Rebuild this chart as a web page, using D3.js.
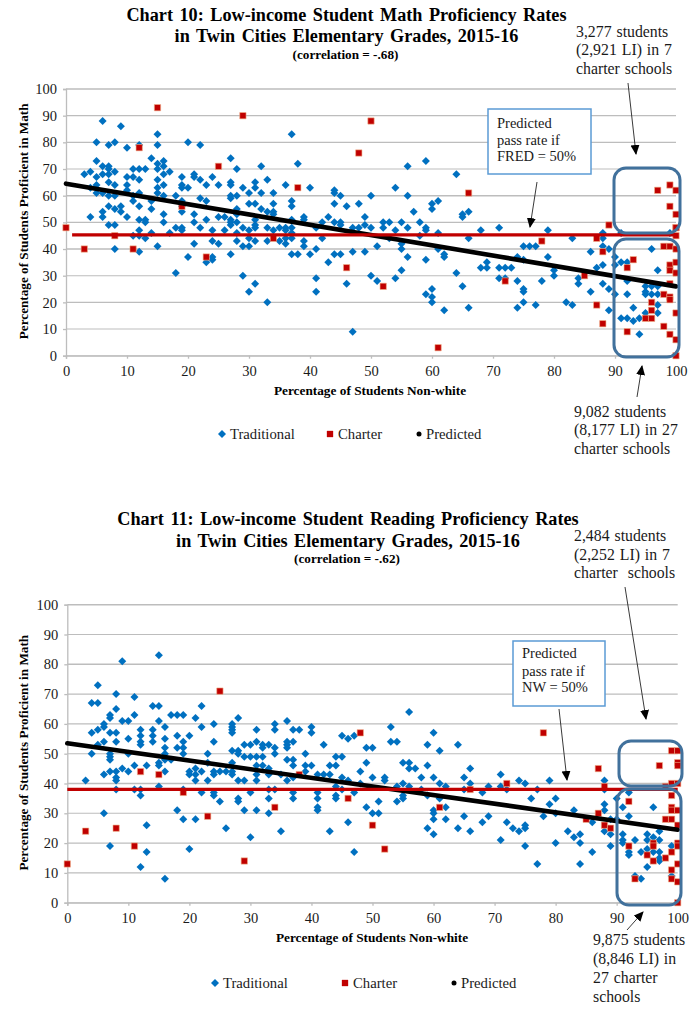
<!DOCTYPE html>
<html><head><meta charset="utf-8">
<script src="https://cdn.jsdelivr.net/npm/d3@7"></script>
<style>
html,body{margin:0;padding:0;background:#fff}
svg{display:block}
text{font-family:"Liberation Serif",serif;fill:#1a1a1a;white-space:pre}
</style></head><body>
<svg id="c" width="700" height="1026"></svg>
<script>
// ---------- Chart 10 data: [percent non-white, percent proficient]
const mathTraditional = [[6,88],[9,86],[5,80],[7,79],[8,80],[10,78],[12,79],[15,83],[15,79],[20,80],[22,79],[37,83],[14,74],[5,73],[15,72],[16,73],[16,71],[6,71],[7,71],[7,70],[11,70],[12,70],[13,70],[15,70],[3,68],[4,69],[5,67],[6,68],[7,68],[8,69],[10,67],[11,67],[12,66],[15,66],[16,68],[17,69],[19,67],[21,68],[21,67],[22,66],[24,67],[27,74],[28,70],[32,71],[27,65],[27,64],[29,63],[31,65],[31,63],[33,66],[36,64],[38,72],[40,63],[5,64],[7,65],[8,64],[10,64],[4,63],[5,61],[6,61],[7,60],[8,60],[10,62],[11,60],[11,58],[12,61],[12,56],[14,58],[15,63],[15,61],[16,64],[16,60],[19,64],[19,63],[20,63],[23,64],[25,64],[18,60],[19,58],[19,56],[22,59],[23,58],[27,59],[27,60],[28,60],[30,61],[32,61],[34,61],[30,57],[31,57],[34,57],[37,58],[37,56],[44,62],[44,61],[44,57],[45,60],[46,56],[4,52],[6,54],[6,52],[8,55],[9,56],[9,54],[10,52],[7,56],[7,49],[8,49],[12,51],[13,51],[13,50],[14,55],[16,53],[16,50],[19,54],[21,53],[21,50],[23,51],[25,52],[26,52],[27,51],[27,50],[27,49],[28,55],[28,50],[28,53],[32,55],[33,54],[34,54],[34,53],[31,51],[37,51],[39,52],[39,51],[43,52],[42,50],[44,50],[45,50],[45,49],[11,45],[12,47],[12,45],[13,44],[14,46],[12,39],[8,40],[15,41],[17,46],[18,48],[19,48],[19,47],[18,31],[20,37],[21,42],[22,48],[23,35],[24,47],[24,43],[24,37],[24,36],[25,42],[26,47],[27,38],[28,43],[28,46],[29,48],[29,41],[29,30],[30,47],[30,44],[30,41],[30,24],[31,49],[31,48],[31,43],[31,27],[33,48],[33,43],[33,20],[34,47],[35,48],[35,43],[36,48],[36,47],[36,44],[36,42],[37,48],[37,46],[37,44],[37,38],[38,38],[39,43],[39,41],[40,38],[41,48],[41,40],[41,29],[41,24],[42,44],[43,35],[44,38],[45,38],[46,27],[47,39],[47,9],[56,71],[59,73],[64,68],[54,63],[56,60],[50,60],[48,57],[60,57],[61,58],[60,55],[57,54],[49,52],[65,53],[65,52],[66,54],[52,50],[53,50],[55,50],[58,50],[52,48],[54,47],[56,48],[59,48],[59,47],[68,47],[71,48],[61,46],[79,47],[88,46],[91,46],[99,46],[47,48],[48,48],[49,49],[50,48],[49,39],[51,41],[55,40],[55,42],[56,37],[53,44],[58,45],[61,40],[62,38],[62,37],[59,36],[66,44],[68,33],[69,35],[69,33],[71,33],[72,33],[73,33],[71,29],[72,29],[74,28],[74,37],[75,36],[75,41],[76,41],[77,41],[79,37],[78,28],[80,32],[80,30],[83,44],[50,30],[51,28],[54,29],[55,32],[64,31],[65,26],[59,23],[60,25],[60,22],[60,20],[62,17],[66,18],[74,18],[75,20],[75,25],[75,24],[77,19],[82,20],[83,19],[84,29],[84,27],[86,24],[86,39],[87,33],[88,34],[88,27],[88,41],[88,44],[89,40],[89,25],[89,17],[90,37],[90,34],[90,23],[91,35],[92,35],[92,28],[92,23],[91,14],[92,14],[93,13],[93,18],[94,14],[94,8],[95,26],[95,24],[95,23],[95,16],[96,40],[96,26],[96,23],[97,32],[97,26],[97,23],[97,19],[97,16]];
const mathCharter = [[15,93],[29,90],[12,78],[25,71],[38,63],[19,56],[0,48],[8,45],[34,44],[3,40],[11,40],[23,37],[46,33],[50,88],[48,76],[66,61],[97,62],[99,64],[100,62],[99,56],[100,53],[100,48],[89,49],[52,26],[72,28],[61,3],[78,43],[85,30],[87,44],[88,39],[87,19],[88,12],[92,33],[93,36],[92,9],[98,41],[99,41],[100,40],[99,34],[99,32],[100,35],[100,31],[99,27],[98,23],[99,22],[99,21],[96,20],[96,17],[95,14],[96,14],[98,11],[99,8],[100,6],[100,16],[100,0],[100,45],[100,48]];
const mathPredicted = [[0,64.5],[100,26]];
const mathPassRate = [[1,45.3],[100,45.3]];

// ---------- Chart 11 data
const readTraditional = [[9,81],[15,83],[5,73],[4,67],[5,67],[8,70],[8,65],[11,69],[11,63],[7,63],[7,62],[6,60],[6,59],[4,57],[5,58],[7,57],[8,57],[9,61],[10,61],[10,55],[8,54],[6,54],[5,53],[12,58],[12,56],[12,54],[12,53],[14,66],[15,66],[14,58],[14,56],[14,54],[15,61],[16,59],[16,55],[16,52],[17,63],[18,63],[19,63],[18,56],[19,54],[18,52],[19,52],[19,50],[20,56],[21,62],[22,66],[22,59],[24,60],[24,54],[23,50],[27,60],[27,59],[27,58],[27,57],[28,62],[27,51],[28,51],[29,53],[30,53],[31,54],[31,58],[32,53],[32,52],[33,53],[34,52],[34,60],[34,58],[34,50],[36,61],[36,54],[36,53],[36,52],[37,54],[37,58],[38,58],[39,50],[40,59],[40,57],[42,53],[45,56],[46,55],[4,50],[7,50],[7,49],[7,48],[6,43],[7,44],[8,44],[9,45],[8,42],[8,41],[10,44],[10,50],[11,46],[13,46],[3,41],[8,38],[11,38],[12,38],[12,36],[15,47],[15,46],[15,39],[16,44],[16,50],[16,48],[17,48],[19,38],[6,30],[7,19],[13,26],[13,17],[12,12],[16,8],[18,31],[19,28],[20,44],[20,43],[21,45],[21,43],[21,41],[22,44],[22,37],[21,28],[20,18],[23,47],[23,41],[24,44],[24,43],[24,37],[24,36],[25,44],[25,34],[26,44],[26,25],[27,47],[27,44],[27,43],[28,50],[28,41],[28,35],[28,34],[29,49],[29,41],[29,31],[30,49],[30,37],[30,22],[31,49],[31,46],[31,43],[31,41],[31,31],[32,49],[32,46],[33,45],[33,43],[33,38],[33,35],[33,30],[34,38],[35,43],[35,24],[36,48],[36,41],[37,48],[37,46],[37,42],[37,37],[37,35],[39,46],[39,44],[40,46],[41,43],[41,37],[41,35],[41,32],[41,31],[42,43],[43,46],[43,43],[43,24],[44,49],[44,46],[44,39],[44,36],[44,35],[45,49],[45,42],[45,38],[46,27],[46,41],[56,64],[53,59],[60,57],[47,56],[53,54],[54,54],[59,53],[64,53],[49,52],[50,52],[61,51],[49,47],[50,42],[48,44],[51,34],[49,32],[50,30],[51,30],[47,37],[47,17],[48,40],[52,42],[52,41],[55,47],[56,47],[56,45],[57,45],[59,46],[58,42],[60,42],[61,40],[62,39],[54,39],[55,40],[55,36],[55,35],[54,34],[56,39],[58,38],[59,36],[60,31],[60,30],[60,28],[61,35],[62,32],[62,28],[59,25],[60,23],[64,25],[65,42],[65,38],[65,29],[66,45],[66,40],[66,24],[68,37],[68,27],[69,39],[69,29],[71,43],[71,39],[71,21],[72,38],[72,27],[73,25],[74,41],[74,24],[75,40],[75,26],[75,25],[75,19],[76,35],[77,38],[77,13],[78,29],[79,41],[79,33],[80,35],[80,30],[80,20],[82,24],[83,31],[83,22],[84,23],[84,20],[84,13],[86,27],[86,17],[88,41],[88,38],[88,33],[88,31],[88,24],[89,28],[89,23],[89,19],[90,35],[90,28],[91,32],[91,23],[91,21],[91,20],[92,29],[92,37],[92,17],[92,16],[93,21],[93,9],[94,17],[94,8],[95,23],[95,21],[95,18],[95,12],[96,32],[96,22],[96,17],[97,24],[97,21],[97,17],[97,15],[97,14],[99,19],[99,9]];
const readCharter = [[25,71],[48,57],[78,57],[99,51],[100,51],[0,13],[3,24],[8,25],[11,19],[12,44],[15,43],[19,37],[23,29],[29,14],[34,32],[38,43],[46,35],[50,26],[52,18],[61,32],[66,38],[72,40],[87,45],[88,39],[85,28],[87,30],[88,26],[89,25],[92,34],[93,8],[92,19],[95,16],[96,20],[96,19],[96,14],[98,15],[98,28],[98,39],[97,46],[99,40],[100,40],[99,36],[99,32],[99,31],[100,31],[99,28],[100,26],[100,20],[100,19],[99,17],[100,13],[99,11],[99,8],[100,7],[100,0],[100,47],[100,46]];
const readPredicted = [[0,53.5],[100,24.5]];
const readPassRate = [[0,38],[100,38]];

// ---------- Ticks and labels
const axisTicks = [0,10,20,30,40,50,60,70,80,90,100];
const legendLabels = ["Traditional","Charter","Predicted"];
const yAxisLabel = "Percentage of Students Proficient in Math";
const xAxisLabel = "Percentage of Students Non-white";

const BLUE="#0070c0", RED="#c00000", GRID="#bdbdbd", BOX="#41719c";
const svg=d3.select("#c");
svg.append("defs").append("marker").attr("id","ah").attr("markerUnits","userSpaceOnUse")
  .attr("markerWidth",10).attr("markerHeight",12).attr("refX",9).attr("refY",4.5).attr("orient","auto")
  .append("path").attr("d","M0,0L10,4.5L0,9Z").attr("fill","#000");

function text(x,y,s,o={}){
  const t=svg.append("text").attr("x",x).attr("y",y).text(s)
    .style("font-size",(o.size||15)+"px")
    .attr("text-anchor",o.anchor||"start");
  if(o.bold) t.style("font-weight","700").style("fill","#000");
  if(o.ws) t.style("word-spacing",o.ws+"px");
  return t;
}

function drawChart(c){
  const g=svg.append("g");
  const x=d3.scaleLinear().domain([0,100]).range([c.x0,c.x1]);
  const y=d3.scaleLinear().domain([0,100]).range([c.y0,c.y1]);
  // gridlines
  g.append("g").selectAll("line").data(axisTicks).join("line")
    .attr("x1",x(0)).attr("x2",x(100)).attr("y1",d=>y(d)).attr("y2",d=>y(d))
    .attr("stroke",GRID).attr("stroke-width",d=>d%20==0&&d>0?1.4:1.1);
  // axes
  const ax=g.append("g").attr("transform",`translate(0,${y(0)})`)
    .call(d3.axisBottom(x).tickValues(axisTicks).tickSize(3).tickPadding(9));
  const ay=g.append("g").attr("transform",`translate(${x(0)},0)`)
    .call(d3.axisLeft(y).tickValues(axisTicks).tickSize(3).tickPadding(6));
  [ax,ay].forEach(a=>{
    a.selectAll("path,line").attr("stroke",GRID).attr("stroke-width",1.3);
    a.selectAll("text").style("font-family",'"Liberation Serif",serif').style("font-size","14.5px").attr("fill","#222");
  });
  ax.selectAll("text").attr("dy",0).attr("y",20.5);
  // markers
  const diamond=d3.symbol().type(d3.symbolSquare).size(32);
  g.append("g").selectAll("path").data(c.trad).join("path")
    .attr("d",diamond).attr("fill",BLUE)
    .attr("transform",d=>`translate(${x(d[0])},${y(d[1])}) rotate(45)`);
  const square=d3.symbol().type(d3.symbolSquare).size(40);
  g.append("g").selectAll("path").data(c.charter).join("path")
    .attr("d",square).attr("fill",RED).attr("stroke","#f2b48c").attr("stroke-width",0.6)
    .attr("transform",d=>`translate(${x(d[0])},${y(d[1])})`);
  const line=d3.line().x(d=>x(d[0])).y(d=>y(d[1]));
  g.append("path").attr("d",line(c.pred)).attr("fill","none").attr("stroke","#000").attr("stroke-width",4.6).attr("stroke-linecap","round");
  g.append("path").attr("d",line(c.pass)).attr("fill","none").attr("stroke",RED).attr("stroke-width",3.2);
  // highlight boxes
  c.boxes.forEach(b=>g.append("rect").attr("x",b[0]).attr("y",b[1]).attr("width",b[2]-b[0]).attr("height",b[3]-b[1])
    .attr("rx",12).attr("fill","none").attr("stroke",BOX).attr("stroke-width",3));
  // titles
  text(c.tx,c.tb[0],c.title[0],{size:18.2,bold:true,anchor:"middle",ws:2});
  text(c.tx,c.tb[1],c.title[1],{size:18.2,bold:true,anchor:"middle",ws:2});
  text(c.tx-1,c.tb[2],c.title[2],{size:13.2,bold:true,anchor:"middle"});
  // axis titles
  text(0,0,yAxisLabel,{size:13.2,bold:true,anchor:"middle"}).attr("transform",`translate(28,${(c.y0+c.y1)/2-1}) rotate(-90)`);
  text(c.xlx,c.xly,xAxisLabel,{size:13.3,bold:true,anchor:"middle"});
  // legend
  const ly=c.ly;
  g.append("path").attr("d",diamond).attr("fill",BLUE).attr("transform",`translate(${c.lg[0]},${ly}) rotate(45)`);
  text(c.lg[0]+8,ly+5,legendLabels[0],{size:14.7});
  g.append("path").attr("d",square).attr("fill",RED).attr("transform",`translate(${c.lg[1]},${ly})`);
  text(c.lg[1]+8,ly+5,legendLabels[1],{size:14.7});
  g.append("circle").attr("cx",c.lg[2]).attr("cy",ly).attr("r",2.5).attr("fill","#000");
  text(c.lg[2]+7,ly+5,legendLabels[2],{size:14.7});
  // callout
  g.append("rect").attr("x",c.call[0]).attr("y",c.call[1]).attr("width",c.call[2]-c.call[0]).attr("height",c.call[3]-c.call[1])
    .attr("fill","#fff").attr("stroke","#5b9bd5").attr("stroke-width",1.5);
  c.callText.forEach((s,i)=>text(c.call[0]+9,c.callY[i],s,{size:14.5}));
  // notes
  c.notes.forEach(n=>n.lines.forEach((s,i)=>text(n.x,n.ys[i],s,{size:15.8,ws:1})));
  // arrows
  c.arrows.forEach(a=>g.append("line").attr("x1",a[0]).attr("y1",a[1]).attr("x2",a[2]).attr("y2",a[3])
    .attr("stroke","#222").attr("stroke-width",0.9).attr("marker-end","url(#ah)"));
}

drawChart({
  x0:66,x1:676,y0:355.7,y1:89,trad:mathTraditional,charter:mathCharter,pred:mathPredicted,pass:mathPassRate,
  boxes:[[614,168,680,233],[614,239,679,357]],
  tx:346.5,tb:[21,42,59],
  title:["Chart 10: Low-income Student Math Proficiency Rates","in Twin Cities Elementary Grades, 2015-16","(correlation = -.68)"],
  xlx:370,xly:395,ly:434,lg:[222,330,419],
  call:[488,109,591,174],callY:[128,145,161],callText:["Predicted","pass rate if","FRED = 50%"],
  notes:[{x:576,ys:[37,55,74],lines:["3,277 students","(2,921 LI) in 7","charter schools"]},
         {x:574,ys:[417,435,454],lines:["9,082 students","(8,177 LI) in 27","charter schools"]}],
  arrows:[[628,83,636,154],[537,182,530,227],[637,397,642,366]]
});
drawChart({
  x0:67.3,x1:677.7,y0:902.7,y1:604.7,trad:readTraditional,charter:readCharter,pred:readPredicted,pass:readPassRate,
  boxes:[[619,741,682,786],[617,789,681,905]],
  tx:348,tb:[525,547,563],
  title:["Chart 11: Low-income Student Reading Proficiency Rates","in Twin Cities Elementary Grades, 2015-16","(correlation = -.62)"],
  xlx:372,xly:942,ly:983,lg:[215,345,454],
  call:[513,641,605,706],callY:[658,676,692],callText:["Predicted","pass rate if","NW = 50%"],
  notes:[{x:574,ys:[541,560,578],lines:["2,484 students","(2,252 LI) in 7","charter  schools"]},
         {x:593,ys:[945,964,983,1002],lines:["9,875 students","(8,846 LI) in","27 charter","schools"]}],
  arrows:[[625,587,646,719],[559,709,567,780],[627,930,643,912]]
});
</script>
</body></html>
